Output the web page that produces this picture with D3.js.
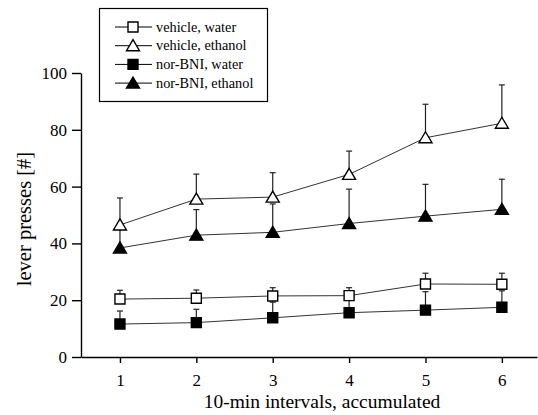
<!DOCTYPE html>
<html>
<head>
<meta charset="utf-8">
<script src="https://cdn.jsdelivr.net/npm/d3@7"></script>
<style>
  html, body { margin: 0; padding: 0; background: #fff; }
  svg text { font-family: "Liberation Serif", "DejaVu Serif", serif; fill: #000; }
  .axis path, .axis line { stroke: #000; stroke-width: 1.4; }
</style>
</head>
<body>
<div id="main"></div>
<script>
// data (mean and upper error bar)
var intervals = [1, 2, 3, 4, 5, 6];
var seriesNames = ["vehicle, water", "vehicle, ethanol", "nor-BNI, water", "nor-BNI, ethanol"];
var vehWater = [20.4, 20.7, 21.5, 21.6, 25.7, 25.6];
var vehWaterErr = [3.1, 2.9, 2.9, 2.8, 3.8, 3.9];
var vehEth = [46.5, 55.6, 56.3, 64.3, 77.2, 82.3];
var vehEthErr = [9.5, 8.8, 8.6, 8.2, 11.8, 13.5];
var norWater = [11.6, 12.1, 13.8, 15.6, 16.5, 17.5];
var norWaterErr = [4.6, 4.7, 5.5, 5.0, 6.5, 5.8];
var norEth = [38.4, 42.9, 43.9, 47.0, 49.6, 52.0];
var norEthErr = [7.5, 9.0, 10.0, 12.1, 11.2, 10.6];
var yTicks = [0, 20, 40, 60, 80, 100];

var width = 538, height = 415;
var series = [
  { name: seriesNames[0], v: vehWater, e: vehWaterErr, shape: "square", filled: false },
  { name: seriesNames[1], v: vehEth, e: vehEthErr, shape: "triangle", filled: false },
  { name: seriesNames[2], v: norWater, e: norWaterErr, shape: "square", filled: true },
  { name: seriesNames[3], v: norEth, e: norEthErr, shape: "triangle", filled: true }
];

var svg = d3.select("#main").append("svg")
  .attr("width", width).attr("height", height);

var x = d3.scaleLinear().domain([0.49, 6.46]).range([81, 537]);
var y = d3.scaleLinear().domain([0, 100]).range([357, 73]);

function symbolPath(shape, cx, cy) {
  if (shape === "square") {
    return "M" + (cx - 5) + "," + (cy - 5) + "h10v10h-10z";
  }
  return "M" + cx + "," + (cy - 6) + "L" + (cx + 6.5) + "," + (cy + 5) + "L" + (cx - 6.5) + "," + (cy + 5) + "z";
}

// axes
svg.append("g").attr("class", "axis")
  .attr("transform", "translate(81,0)")
  .call(d3.axisLeft(y).tickValues(yTicks).tickSize(9).tickPadding(5).tickSizeOuter(0));

svg.append("g").attr("class", "axis")
  .attr("transform", "translate(0,357)")
  .call(d3.axisBottom(x).tickValues(intervals).tickFormat(d3.format("d"))
    .tickSize(6).tickPadding(11).tickSizeOuter(0));

svg.selectAll(".axis .tick text")
  .style("font-size", "17px")
  .style("font-family", "'Liberation Serif', serif");

// lines
var line = d3.line()
  .x(function(d, i) { return x(intervals[i]); })
  .y(function(d) { return y(d); });

series.forEach(function(s) {
  svg.append("path")
    .attr("d", line(s.v))
    .attr("fill", "none")
    .attr("stroke", "#333")
    .attr("stroke-width", 1);
});

// error bars (upward only)
series.forEach(function(s) {
  var g = svg.append("g");
  s.v.forEach(function(v, i) {
    var cx = x(intervals[i]);
    g.append("line").attr("x1", cx).attr("x2", cx)
      .attr("y1", y(v)).attr("y2", y(v + s.e[i]))
      .attr("stroke", "#222").attr("stroke-width", 1.2);
    g.append("line").attr("x1", cx - 3).attr("x2", cx + 3)
      .attr("y1", y(v + s.e[i])).attr("y2", y(v + s.e[i]))
      .attr("stroke", "#222").attr("stroke-width", 1.2);
  });
});

// markers
series.forEach(function(s) {
  svg.append("g").selectAll("path")
    .data(s.v).enter().append("path")
    .attr("d", function(d, i) { return symbolPath(s.shape, x(intervals[i]), y(d)); })
    .attr("fill", s.filled ? "#000" : "#fff")
    .attr("stroke", "#000")
    .attr("stroke-width", 1.4);
});

// axis labels
svg.append("text")
  .attr("transform", "translate(31,219) rotate(-90)")
  .style("text-anchor", "middle")
  .style("font-size", "20.5px")
  .text("lever presses [#]");

svg.append("text")
  .attr("x", 322).attr("y", 408)
  .style("text-anchor", "middle")
  .style("font-size", "19.5px")
  .text("10-min intervals, accumulated");

// legend
var legend = svg.append("g");
legend.append("rect")
  .attr("x", 99.5).attr("y", 8.5).attr("width", 168).attr("height", 93)
  .attr("fill", "#fff").attr("stroke", "#000").attr("stroke-width", 1.2);

series.forEach(function(s, i) {
  var ly = 27 + i * 18.7;
  legend.append("line").attr("x1", 115).attr("x2", 152)
    .attr("y1", ly).attr("y2", ly).attr("stroke", "#000").attr("stroke-width", 1);
  legend.append("path")
    .attr("d", symbolPath(s.shape, 133, ly))
    .attr("fill", s.filled ? "#000" : "#fff")
    .attr("stroke", "#000").attr("stroke-width", 1.4);
  legend.append("text")
    .attr("x", 156).attr("y", ly + 4.5)
    .style("font-size", "14.3px")
    .text(s.name);
});
</script>
</body>
</html>
